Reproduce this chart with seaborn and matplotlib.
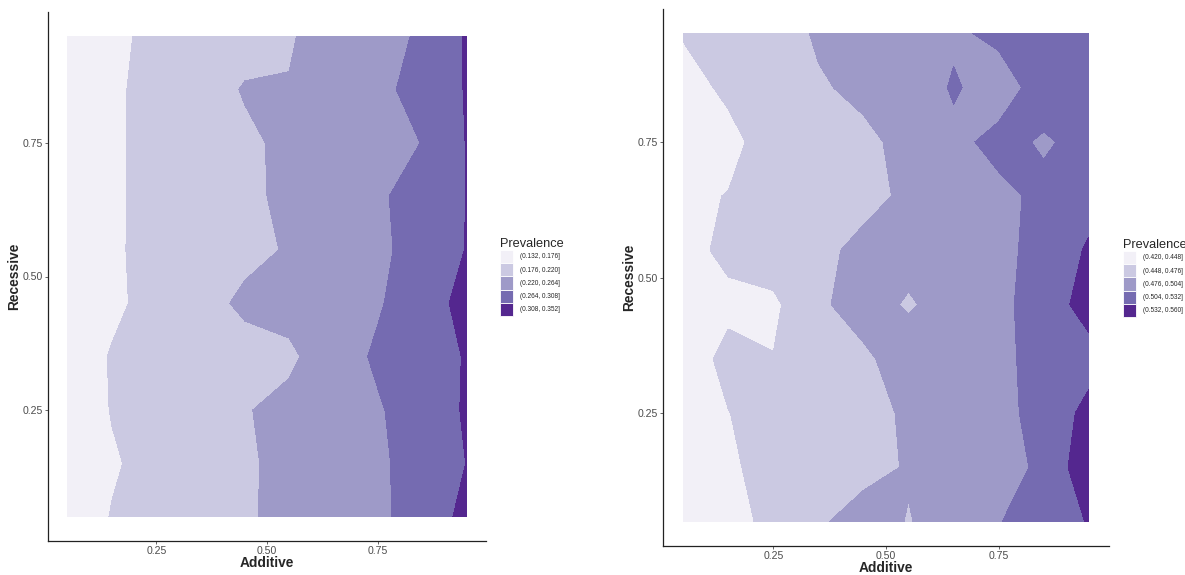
import numpy as np
import matplotlib
matplotlib.use("Agg")
import matplotlib.pyplot as plt
from matplotlib.patches import Patch
import seaborn as sns

# grid of the simulation (same on both axes)
additive = [0.05, 0.15, 0.25, 0.35, 0.45, 0.55, 0.65, 0.75, 0.85, 0.95]
recessive = [0.05, 0.15, 0.25, 0.35, 0.45, 0.55, 0.65, 0.75, 0.85, 0.95]

# prevalence, one row per recessive value (bottom -> top), columns = additive
prev_left = [
    [0.153, 0.1778, 0.1905, 0.2033, 0.216, 0.2293, 0.2428, 0.2563, 0.2807, 0.3197],
    [0.150, 0.1724, 0.1876, 0.2014, 0.2153, 0.2293, 0.2434, 0.2575, 0.2796, 0.3083],
    [0.153, 0.1777, 0.191, 0.204, 0.2175, 0.2316, 0.246, 0.260, 0.284, 0.312],
    [0.155, 0.1786, 0.189, 0.199, 0.205, 0.212, 0.2444, 0.2697, 0.290, 0.3102],
    [0.150, 0.169, 0.188, 0.2055, 0.2275, 0.235, 0.2475, 0.260, 0.287, 0.321],
    [0.150, 0.1715, 0.186, 0.198, 0.210, 0.223, 0.239, 0.256, 0.279, 0.3092],
    [0.150, 0.171, 0.186, 0.199, 0.213, 0.227, 0.243, 0.258, 0.281, 0.3083],
    [0.150, 0.171, 0.186, 0.200, 0.214, 0.227, 0.239, 0.252, 0.2645, 0.309],
    [0.150, 0.170, 0.188, 0.204, 0.2225, 0.2215, 0.244, 0.256, 0.275, 0.3105],
    [0.150, 0.169, 0.184, 0.195, 0.207, 0.217, 0.235, 0.250, 0.269, 0.311],
]
prev_right = [
    [0.430, 0.440, 0.454, 0.4734, 0.4841, 0.4751, 0.4841, 0.502, 0.527, 0.5325],
    [0.432, 0.444, 0.4573, 0.464, 0.470, 0.4775, 0.485, 0.490, 0.5109, 0.550],
    [0.436, 0.4475, 0.458, 0.464, 0.469, 0.479, 0.482, 0.486, 0.5252, 0.5349],
    [0.4344, 0.455, 0.4488, 0.460, 0.470, 0.492, 0.495, 0.499, 0.5115, 0.5282],
    [0.436, 0.4423, 0.443, 0.4705, 0.490, 0.4725, 0.490, 0.492, 0.5265, 0.536],
    [0.440, 0.4535, 0.4622, 0.472, 0.4801, 0.4871, 0.494, 0.497, 0.5129, 0.5352],
    [0.444, 0.4487, 0.4565, 0.4639, 0.4714, 0.4788, 0.487, 0.4958, 0.5116, 0.522],
    [0.432, 0.442, 0.458, 0.466, 0.4731, 0.4798, 0.495, 0.514, 0.5003, 0.514],
    [0.440, 0.452, 0.4625, 0.4745, 0.479, 0.479, 0.508, 0.487, 0.520, 0.524],
    [0.4495, 0.459, 0.4688, 0.4778, 0.4852, 0.4926, 0.498, 0.512, 0.520, 0.526],
]

levels_left = [0.132, 0.176, 0.220, 0.264, 0.308, 0.352]
levels_right = [0.420, 0.448, 0.476, 0.504, 0.532, 0.560]

tick_vals = [0.25, 0.50, 0.75]
tick_labels = ["0.25", "0.50", "0.75"]

sns.set_style("ticks")
plt.rcParams["font.family"] = ["Liberation Sans", "DejaVu Sans"]

purples = sns.color_palette(["#F2F0F7", "#CBC9E2", "#9E9AC8", "#756BB1", "#54278F"])

fig = plt.figure(figsize=(11.85, 5.75), dpi=100)
W, H = 1185, 575


def px_axes(x0, y0, x1, y1):
    return fig.add_axes([x0 / W, 1 - y1 / H, (x1 - x0) / W, (y1 - y0) / H])


def draw_panel(ax, z, levels, legend_xy):
    ax.contourf(additive, recessive, np.array(z), levels=levels, colors=purples)
    ax.set_xlim(0.005, 0.995)
    ax.set_ylim(0.005, 0.995)
    ax.set_xticks(tick_vals, tick_labels)
    ax.set_yticks(tick_vals, tick_labels)
    ax.tick_params(labelsize=7.6, colors="#4d4d4d", length=2, width=0.6, pad=1.5)
    ax.set_xlabel("Additive", fontsize=9.9, fontweight="bold", labelpad=0)
    ax.set_ylabel("Recessive", fontsize=9.9, fontweight="bold", labelpad=1.5)
    sns.despine(ax=ax)
    for s in ["left", "bottom"]:
        ax.spines[s].set_linewidth(0.9)
        ax.spines[s].set_color("#222222")

    handles = [
        Patch(facecolor=purples[k], edgecolor="white", linewidth=0.6,
              label=f"({levels[k]:.3f}, {levels[k + 1]:.3f}]")
        for k in range(len(levels) - 1)
    ]
    fig.legend(
        handles=handles,
        title="Prevalence",
        loc="center left",
        bbox_to_anchor=(legend_xy[0] / W, 1 - legend_xy[1] / H),
        frameon=False,
        fontsize=4.7,
        title_fontsize=9.2,
        handlelength=2.0,
        handleheight=2.75,
        handletextpad=1.0,
        labelspacing=0.0,
        borderpad=0.0,
        alignment="left",
    )


ax1 = px_axes(48, 12, 486, 541)
draw_panel(ax1, prev_left, levels_left, (497, 277))

ax2 = px_axes(663, 9, 1109, 546)
draw_panel(ax2, prev_right, levels_right, (1120, 278))

fig.savefig("out.png", dpi=100)
